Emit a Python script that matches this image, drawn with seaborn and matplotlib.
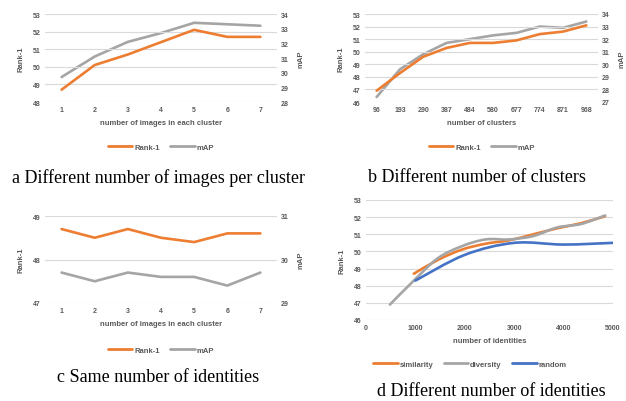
import numpy as np
import matplotlib
matplotlib.use("Agg")
import matplotlib.pyplot as plt
import seaborn as sns
import pandas as pd
from matplotlib.path import Path
from matplotlib.patches import PathPatch
from matplotlib.lines import Line2D

sns.set_theme(style="white")
plt.rcParams["font.family"] = ["Liberation Sans", "DejaVu Sans"]

ORANGE = "#ED7D31"
GRAY = "#A5A5A5"
BLUE = "#4472C4"
GRID = "#D9D9D9"
TXT = "#595959"

# (a) different number of images per cluster
imgs_per_cluster = [1, 2, 3, 4, 5, 6, 7]
a_rank1 = [48.7, 50.1, 50.7, 51.4, 52.1, 51.7, 51.7]
a_map = [29.7, 31.1, 32.1, 32.7, 33.4, 33.3, 33.2]

# (b) different number of clusters
n_clusters = ["96", "193", "290", "387", "484", "580", "677", "774", "871", "968"]
b_rank1 = [46.9, 48.3, 49.6, 50.3, 50.7, 50.7, 50.9, 51.4, 51.6, 52.1]
b_map = [27.4, 29.6, 30.8, 31.7, 32.0, 32.3, 32.5, 33.0, 32.9, 33.4]

# (c) same number of identities
c_rank1 = [48.7, 48.5, 48.7, 48.5, 48.4, 48.6, 48.6]
c_map = [29.7, 29.5, 29.7, 29.6, 29.6, 29.4, 29.7]

# (d) different number of identities
ids_div = [484, 968, 1452, 1936, 2420, 2904, 3388, 3872, 4356, 4840]
d_diversity = [46.9, 48.3, 49.6, 50.3, 50.7, 50.7, 50.9, 51.4, 51.6, 52.1]
ids_sim = [968, 1452, 1936, 2420, 2904, 3388, 3872, 4356, 4840]
d_similarity = [48.7, 49.5, 50.1, 50.45, 50.65, 51.0, 51.35, 51.65, 52.05]
ids_rand = [1000, 2000, 3000, 4000, 5000]
d_random = [48.3, 49.8, 50.5, 50.4, 50.5]

W, H = 626, 402
fig = plt.figure(figsize=(W / 100, H / 100), dpi=100)


def px_axes(left, top, right, bottom):
    return fig.add_axes([left / W, 1 - bottom / H, (right - left) / W, (bottom - top) / H])


def style(ax, ylim, yticks):
    ax.set_ylim(*ylim)
    ax.set_yticks(yticks)
    ax.grid(axis="y", color=GRID, linewidth=0.8)
    ax.grid(axis="x", visible=False)
    for s in ax.spines.values():
        s.set_visible(False)
    ax.tick_params(axis="both", length=0, labelsize=5, colors=TXT, pad=3)
    for lab in ax.get_yticklabels() + ax.get_xticklabels():
        lab.set_fontweight("bold")


def twin_style(ax2, ylim, yticks):
    ax2.set_ylim(*ylim)
    ax2.set_yticks(yticks)
    ax2.grid(False)
    for s in ax2.spines.values():
        s.set_visible(False)
    ax2.tick_params(axis="y", length=0, labelsize=5, colors=TXT, pad=3)
    for lab in ax2.get_yticklabels():
        lab.set_fontweight("bold")


def labels(ax, xlabel, ylabel, ax2=None):
    ax.set_xlabel(xlabel, fontsize=5.5, color=TXT, fontweight="bold", labelpad=4)
    ax.set_ylabel("Rank-1", fontsize=5.5, color=TXT, fontweight="bold", labelpad=6)
    if ax2 is not None:
        ax2.set_ylabel(ylabel, fontsize=5.5, color=TXT, fontweight="bold", labelpad=6)


def legend(names, colors, cx, cy):
    handles = [Line2D([], [], color=c, lw=2) for c in colors]
    fig.legend(handles, names, loc="center", bbox_to_anchor=(cx / W, 1 - cy / H),
               ncol=len(names), frameon=False, handlelength=3.2,
               handletextpad=0.25, columnspacing=1.4, labelcolor=TXT,
               prop={"weight": "bold", "size": 5.5})


def caption(text, cx, cy):
    fig.text(cx / W, 1 - cy / H, text, ha="center", va="center", fontsize=13,
             family="Liberation Serif", color="black")


def pair_panel(ax, x, r1, mp, ylim1, yt1, ylim2, yt2, xlim, xticklabels, xlabel):
    df = pd.DataFrame({"x": x, "Rank-1": r1, "mAP": mp})
    ax2 = ax.twinx()
    sns.lineplot(data=df, x="x", y="Rank-1", ax=ax, color=ORANGE, lw=1.9, zorder=3)
    sns.lineplot(data=df, x="x", y="mAP", ax=ax2, color=GRAY, lw=1.9)
    ax.set_zorder(ax2.get_zorder() + 1)
    ax.patch.set_visible(False)
    ax.set_xlim(*xlim)
    ax.set_xticks(x)
    ax.set_xticklabels(xticklabels)
    style(ax, ylim1, yt1)
    twin_style(ax2, ylim2, yt2)
    labels(ax, xlabel, "mAP", ax2)
    return ax2


# panel a
ax_a = px_axes(45, 15, 277, 103)
pair_panel(ax_a, imgs_per_cluster, a_rank1, a_map, (48, 53), range(48, 54),
           (28, 34), range(28, 35), (0.5, 7.5), [str(v) for v in imgs_per_cluster],
           "number of images in each cluster")
legend(["Rank-1", "mAP"], [ORANGE, GRAY], 161, 148)
caption("a Different number of images per cluster", 158, 178)

# panel b
ax_b = px_axes(365, 15, 598, 103)
pos_b = list(range(len(n_clusters)))
pair_panel(ax_b, pos_b, b_rank1, b_map, (46, 53), range(46, 54),
           (27, 34), range(27, 35), (-0.5, 9.5), n_clusters, "number of clusters")
legend(["Rank-1", "mAP"], [ORANGE, GRAY], 482, 148)
caption("b Different number of clusters", 477, 178)

# panel c
ax_c = px_axes(45, 217, 277, 304)
pair_panel(ax_c, imgs_per_cluster, c_rank1, c_map, (47, 49), range(47, 50),
           (29, 31), range(29, 32), (0.5, 7.5), [str(v) for v in imgs_per_cluster],
           "number of images in each cluster")
legend(["Rank-1", "mAP"], [ORANGE, GRAY], 161, 351)
caption("c Same number of identities", 158, 378)


# panel d: smoothed lines (Excel style bezier through data points)
def smooth_path(xs, ys):
    pts = np.column_stack([xs, ys]).astype(float)
    ext = np.vstack([pts[0], pts, pts[-1]])
    verts = [pts[0]]
    codes = [Path.MOVETO]
    for i in range(1, len(ext) - 2):
        p0, p1, p2, p3 = ext[i - 1], ext[i], ext[i + 1], ext[i + 2]
        verts += [p1 + (p2 - p0) / 6, p2 - (p3 - p1) / 6, p2]
        codes += [Path.CURVE4] * 3
    return Path(verts, codes)


ax_d = px_axes(366, 201, 613, 321)
for xs, ys, c in [(ids_sim, d_similarity, ORANGE), (ids_div, d_diversity, GRAY),
                  (ids_rand, d_random, BLUE)]:
    ax_d.add_patch(PathPatch(smooth_path(xs, ys), fill=False, edgecolor=c, lw=1.9,
                             capstyle="round", zorder=3))
ax_d.set_xlim(0, 5000)
ax_d.set_xticks([0, 1000, 2000, 3000, 4000, 5000])
style(ax_d, (46, 53), range(46, 54))
ax_d.set_xlabel("number of identities", fontsize=5.5, color=TXT, fontweight="bold", labelpad=4)
ax_d.set_ylabel("Rank-1", fontsize=5.5, color=TXT, fontweight="bold", labelpad=6)
legend(["similarity", "diversity", "random"], [ORANGE, GRAY, BLUE], 470, 365)
caption("d Different number of identities", 491, 392)

fig.savefig("out.png", dpi=100)
